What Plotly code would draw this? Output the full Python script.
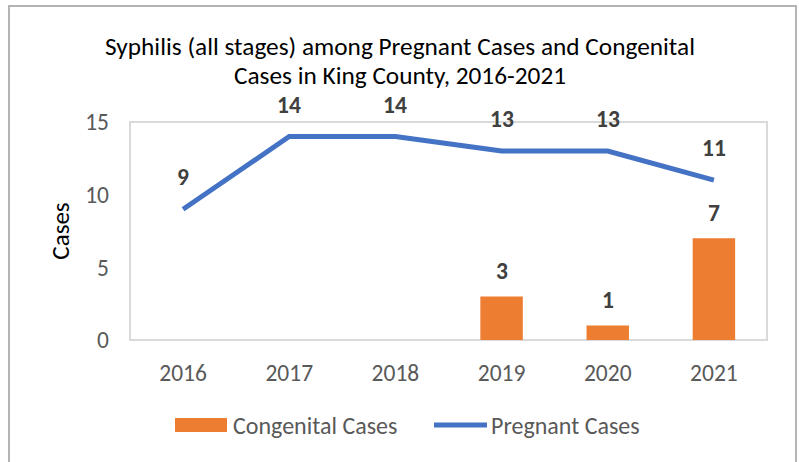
import plotly.graph_objects as go

years = ["2016", "2017", "2018", "2019", "2020", "2021"]
congenital = [None, None, None, 3, 1, 7]
pregnant = [9, 14, 14, 13, 13, 11]
y_ticks = [0, 5, 10, 15]
title_lines = ["Syphilis (all stages) among Pregnant Cases and Congenital",
               "Cases in King County, 2016-2021"]

ORANGE = "#ED7D31"
BLUE = "#4472C4"
GRAY = "#595959"
LABEL = "#404040"
FONT = "Carlito, Calibri, 'Liberation Sans Narrow', 'Noto Sans', sans-serif"

W, H = 799, 462
L, R, T, B = 130, 32, 122, 122

fig = go.Figure()
fig.add_trace(go.Bar(
    x=years, y=congenital, name="Congenital Cases",
    marker=dict(color=ORANGE, line=dict(width=0)), width=0.4,
    showlegend=False, hoverinfo="skip",
))
fig.add_trace(go.Scatter(
    x=years, y=pregnant, name="Pregnant Cases", mode="lines",
    line=dict(color=BLUE, width=5),
    showlegend=False, hoverinfo="skip",
))

pw = W - L - R
ph = H - T - B
def px(x):
    return (x - L) / pw
def py(y):
    return (H - B - y) / ph

label_font = dict(family=FONT, size=23.5, color=LABEL, weight="bold")
annotations = []
# category axis: annotations positioned by category index
for i, v in enumerate(pregnant):
    annotations.append(dict(x=i, y=v, xref="x", yref="y", text=str(v), showarrow=False,
                            yanchor="middle", yshift=32, font=label_font))
for i, v in enumerate(congenital):
    if v is not None:
        annotations.append(dict(x=i, y=v, xref="x", yref="y", text=str(v), showarrow=False,
                                yanchor="middle", yshift=25, font=label_font))

# title (two lines, centred on the whole chart)
for line, yy in zip(title_lines, [47, 75]):
    annotations.append(dict(xref="paper", yref="paper", x=px(W / 2), y=py(yy),
                            xanchor="center", yanchor="middle", text=line, showarrow=False,
                            font=dict(family=FONT, size=25.3, color="#000000")))

shapes = [
    # outer chart border
    dict(type="rect", xref="paper", yref="paper",
         x0=px(9), x1=px(796), y0=py(470), y1=py(6),
         line=dict(color="#B4B4B4", width=2), layer="below"),
    # plot area border
    dict(type="rect", xref="paper", yref="paper", x0=0, x1=1, y0=0, y1=1,
         line=dict(color="#D9D9D9", width=2), layer="below"),
    # legend swatches
    dict(type="rect", xref="paper", yref="paper",
         x0=px(175), x1=px(227), y0=py(432), y1=py(418),
         fillcolor=ORANGE, line=dict(width=0)),
    dict(type="line", xref="paper", yref="paper",
         x0=px(434), x1=px(487), y0=py(425), y1=py(425),
         line=dict(color=BLUE, width=5)),
]

annotations += [
    dict(xref="paper", yref="paper", x=px(231), y=py(425), xanchor="left",
         yanchor="middle", text="Congenital Cases", showarrow=False,
         font=dict(family=FONT, size=24, color=GRAY)),
    dict(xref="paper", yref="paper", x=px(489), y=py(425), xanchor="left",
         yanchor="middle", text="Pregnant Cases", showarrow=False,
         font=dict(family=FONT, size=24, color=GRAY)),
]

fig.update_layout(
    width=W, height=H,
    margin=dict(l=L, r=R, t=T, b=B),
    paper_bgcolor="white", plot_bgcolor="white",
    xaxis=dict(type="category", range=[-0.5, 5.5], showgrid=False, showline=False,
               ticks="", ticklabelstandoff=16,
               tickfont=dict(family=FONT, size=23.5, color=GRAY)),
    yaxis=dict(range=[0, 15], tickvals=y_ticks, showgrid=False, showline=False,
               zeroline=False, ticks="", ticklen=0, ticklabelstandoff=20,
               tickfont=dict(family=FONT, size=23.5, color=GRAY),
               title=dict(text="Cases", font=dict(family=FONT, size=25, color="#000000"), standoff=8)),
    shapes=shapes, annotations=annotations,
    showlegend=False, bargap=0.6,
)

fig.write_html("out.html", config={"displayModeBar": False},
               post_script="document.body.style.margin='0';")
